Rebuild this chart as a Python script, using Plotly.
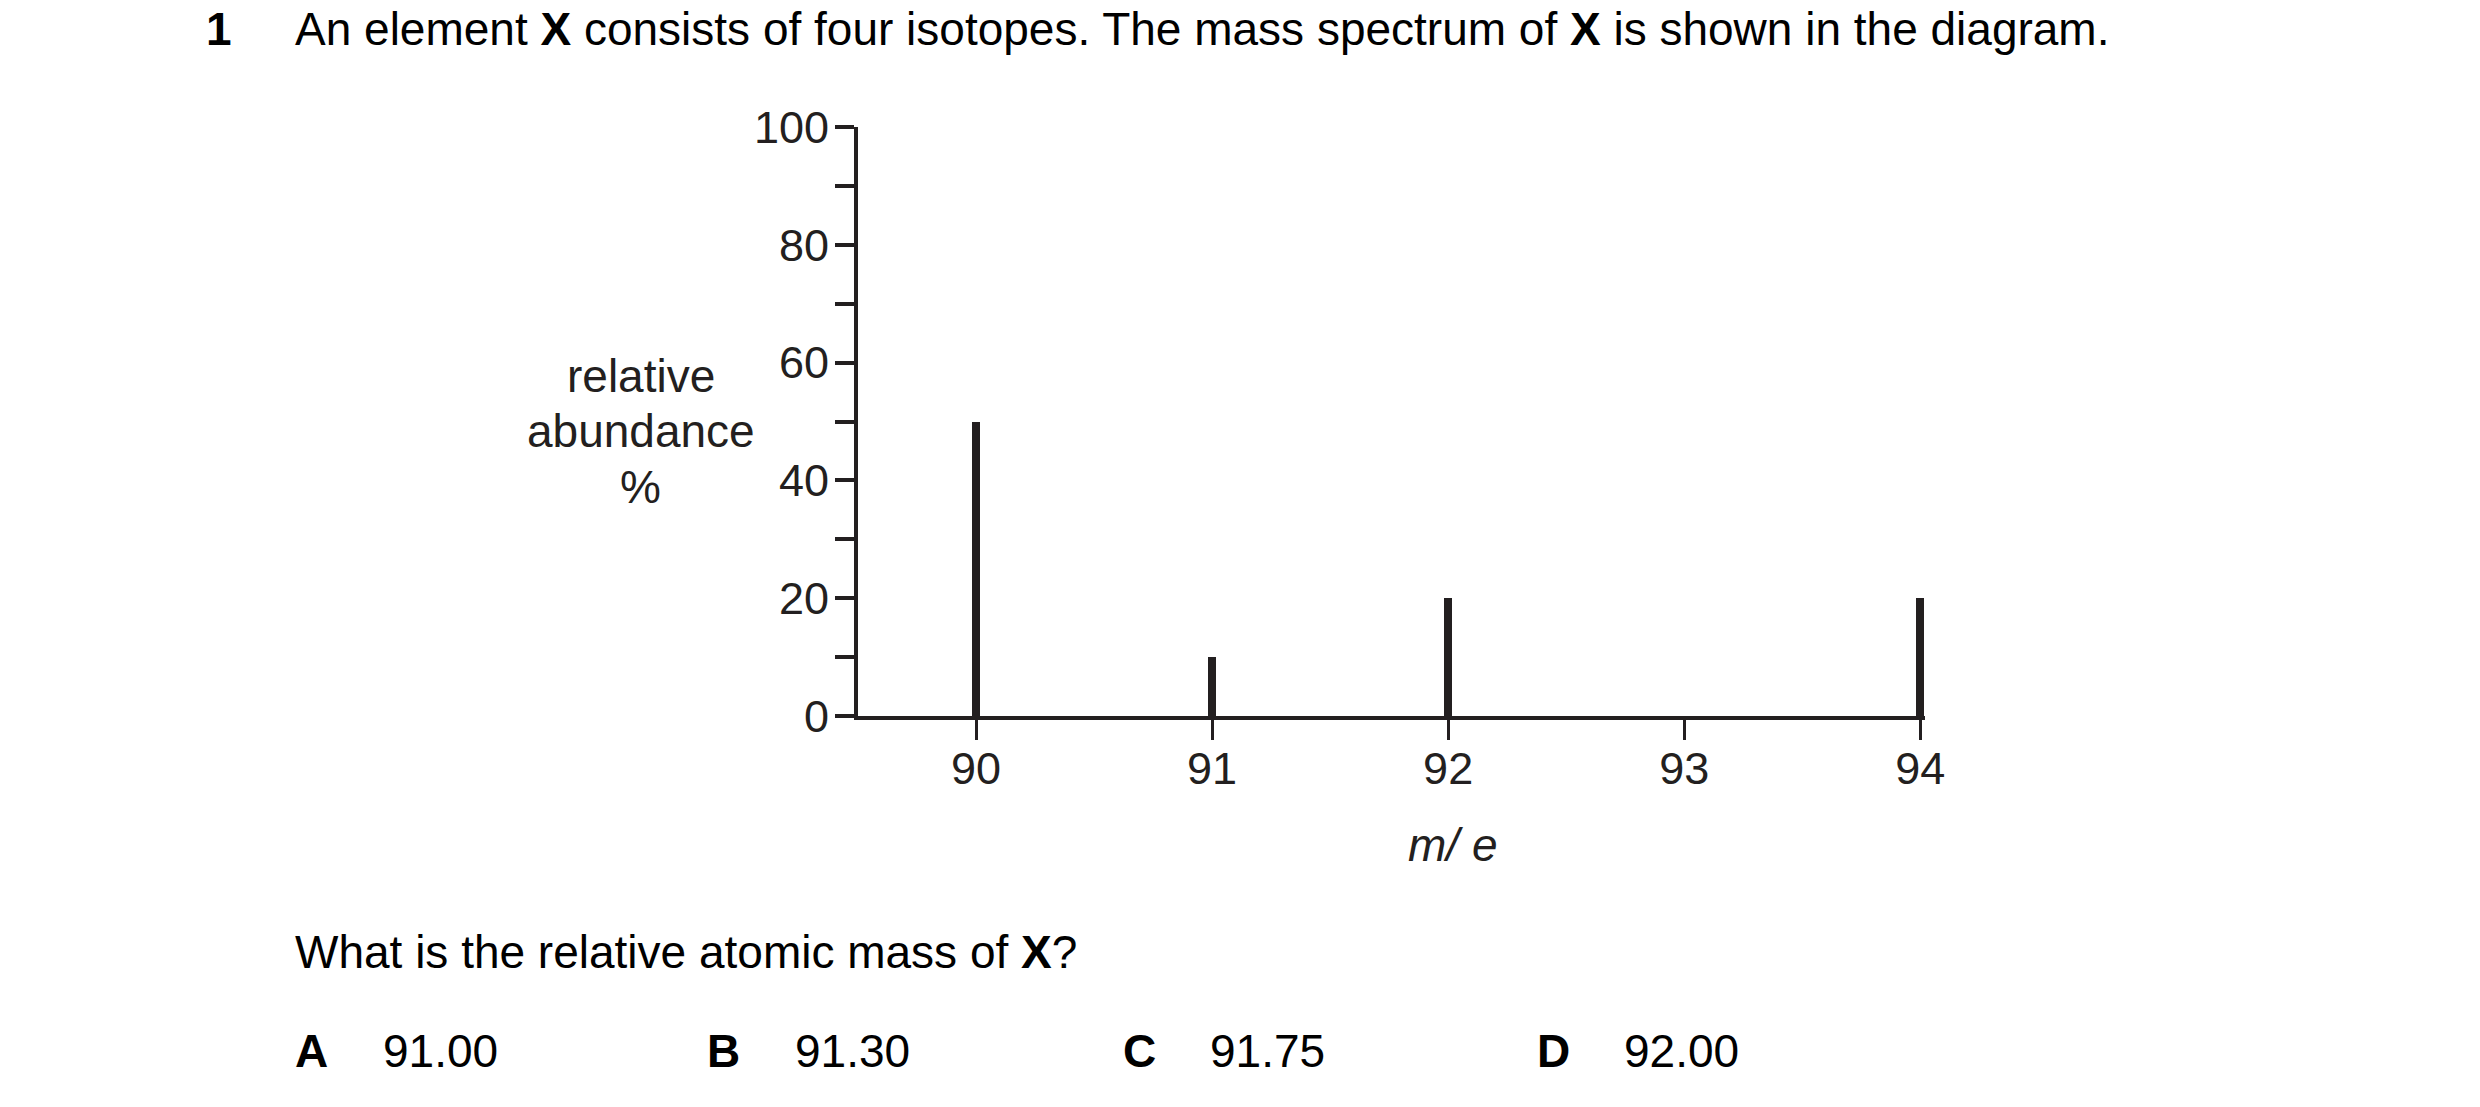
import plotly.graph_objects as go

# ---- data ----
mass_to_charge = [90, 91, 92, 94]
relative_abundance = [50, 10, 20, 20]
x_ticks = [90, 91, 92, 93, 94]
y_ticks = [0, 10, 20, 30, 40, 50, 60, 70, 80, 90, 100]
y_tick_labels = ["0", "", "20", "", "40", "", "60", "", "80", "", "100"]
options = [("A", "91.00"), ("B", "91.30"), ("C", "91.75"), ("D", "92.00")]

INK = "#231f20"
FONT = "Liberation Sans, Arial, Helvetica, sans-serif"
W, H = 2480, 1107
X_MIN, X_MAX = 89.5, 94.02
L, T, B = 858, 127, 716          # plot area in pixels
R = 1920 + (X_MAX - 94) * 236    # keep 94 at the same pixel as reference


def px(xp):
    return (xp - L) / (R - L)


def py(yp):
    return (B - yp) / (B - T)


fig = go.Figure()
fig.add_trace(go.Bar(
    x=mass_to_charge, y=relative_abundance, width=0.034,
    marker=dict(color=INK, line=dict(width=0)),
    cliponaxis=False, hoverinfo="skip", showlegend=False,
))

fig.update_xaxes(
    range=[X_MIN, X_MAX], tickvals=x_ticks, ticktext=[str(v) for v in x_ticks],
    ticks="outside", ticklen=20, tickwidth=3, tickcolor=INK,
    showline=True, linewidth=4, linecolor=INK,
    showgrid=False, zeroline=False, ticklabelstandoff=-10,
    tickfont=dict(family=FONT, size=45, color=INK),
)
fig.update_yaxes(
    range=[0, 100], tickvals=y_ticks, ticktext=y_tick_labels,
    ticks="outside", ticklen=19, tickwidth=4, tickcolor=INK,
    showline=True, linewidth=4, linecolor=INK,
    showgrid=False, zeroline=False, ticklabelstandoff=-3,
    tickfont=dict(family=FONT, size=45, color=INK),
)

ann = []


def text(x, y, s, anchor="left", size=46, color="#000"):
    ann.append(dict(
        x=px(x), y=py(y), xref="paper", yref="paper", text=s,
        showarrow=False, xanchor=anchor, yanchor="middle",
        font=dict(family=FONT, size=size, color=color),
    ))


text(204, 29, "<b>1</b>")
text(293, 29, "An element <b>X</b> consists of four isotopes. The mass spectrum of <b>X</b> is shown in the diagram.")
text(641, 376, "relative", "center", color=INK)
text(641, 431, "abundance", "center", color=INK)
text(641, 487, "%", "center", color=INK)
text(1452, 845, "<i>m/ e</i>", "center", color=INK)
text(293, 952, "What is the relative atomic mass of <b>X</b>?")
letter_x = [293, 705, 1121, 1535]
value_x = [381, 793, 1208, 1622]
for (letter, val), lx, vx in zip(options, letter_x, value_x):
    text(lx, 1051, f"<b>{letter}</b>")
    text(vx, 1051, val)

fig.update_layout(
    width=W, height=H,
    margin=dict(l=L, r=W - R, t=T, b=H - B, pad=0, autoexpand=False),
    paper_bgcolor="white", plot_bgcolor="white",
    annotations=ann,
    showlegend=False, bargap=0,
)

fig.write_html(
    "out.html",
    config={"displayModeBar": False, "staticPlot": True},
    post_script="document.body.style.margin='0';document.body.style.overflow='hidden';",
)
